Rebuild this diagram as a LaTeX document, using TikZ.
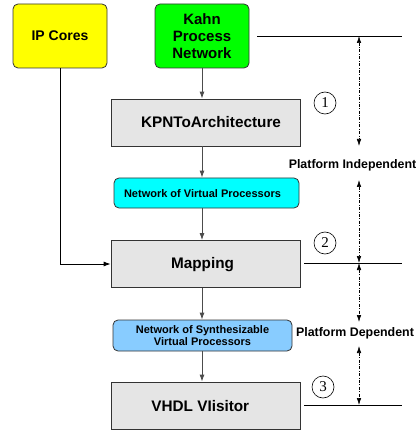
\documentclass[tikz,border=0pt]{standalone}
\usepackage{fontspec}
\setmainfont{Liberation Serif}
\setsansfont{Liberation Sans}
\usetikzlibrary{arrows.meta}
\definecolor{boxgray}{HTML}{E5E5E5}
\definecolor{kpngreen}{HTML}{00FF00}
\definecolor{ipyellow}{HTML}{FFFF00}
\definecolor{nvpcyan}{HTML}{00FFFF}
\definecolor{nsvpblue}{HTML}{88CCFF}
\definecolor{edgegray}{HTML}{333333}
\begin{document}
\begin{tikzpicture}[x=1pt,y=-1pt,
  rbox/.style={draw=edgegray,line width=0.8pt,rounded corners=5pt,align=center,font=\sffamily\bfseries,inner sep=0pt},
  sbox/.style={draw=edgegray,line width=0.8pt,fill=boxgray,inner sep=0pt,minimum width=189pt,minimum height=47pt},
  stext/.style={font=\sffamily\bfseries\fontsize{15.3}{17}\selectfont,inner sep=0pt},
  flow/.style={draw=black!70,line width=0.9pt,-{Latex[length=7pt,width=5pt]}},
  dim/.style={line width=0.6pt,dash pattern=on 3pt off 1.5pt on 0.8pt off 1.5pt,{Latex[length=7pt,width=4.5pt]}-{Latex[length=7pt,width=4.5pt]}},
  hline/.style={line width=0.7pt},
  num/.style={draw,circle,line width=0.6pt,minimum size=22pt,inner sep=0pt,font=\fontsize{15}{15}\selectfont},
  plab/.style={font=\sffamily\bfseries\fontsize{12.4}{14}\selectfont,inner sep=0pt}]
\useasboundingbox (0,0) rectangle (417,430);
\node[rbox,fill=ipyellow,minimum width=94pt,minimum height=64pt,font=\sffamily\bfseries\fontsize{14}{16}\selectfont] (ip) at (60,36) {IP Cores};
\node[rbox,fill=kpngreen,minimum width=94pt,minimum height=64pt,font=\sffamily\bfseries\fontsize{15}{16.7}\selectfont] (kpn) at (202,36) {Kahn\\Process\\Network};
\node[sbox] (k2a) at (205.5,122.5) {};
\node[stext] (k2at) at (211,122.5) {KPNToArchitecture};
\node[rbox,fill=nvpcyan,minimum width=185pt,minimum height=30pt,font=\sffamily\bfseries\fontsize{11}{13}\selectfont] (nvp) at (206.5,193) {};
\node[font=\sffamily\bfseries\fontsize{11}{13}\selectfont,inner sep=0pt] (nvpt) at (202.5,193.5) {Network of Virtual Processors};
\node[sbox] (map) at (205.5,264) {};
\node[stext] (mapt) at (202.5,264.5) {Mapping};
\node[rbox,fill=nsvpblue,minimum width=179pt,minimum height=31pt,font=\sffamily\bfseries\fontsize{11}{11.8}\selectfont] (nsvp) at (202.5,335.5) {Network of Synthesizable\\Virtual Processors};
\node[sbox] (vhdl) at (205.5,405.5) {};
\node[stext] (vhdlt) at (200.3,406) {VHDL VIisitor};
\draw[flow] (kpn.south) -- (kpn.south |- k2a.north);
\draw[flow] (k2a.south -| kpn.south) -- (kpn.south |- nvp.north);
\draw[flow] (nvp.south -| kpn.south) -- (kpn.south |- map.north);
\draw[flow] (map.south -| kpn.south) -- (kpn.south |- nsvp.north);
\draw[flow] (nsvp.south -| kpn.south) -- (kpn.south |- vhdl.north);
\draw[line width=0.8pt,-{Latex[length=7pt,width=5pt]}] (ip.south) |- (map.west);
% dimension lines
\coordinate (h1a) at (257,36); \coordinate (h1b) at (402,36);
\coordinate (h2a) at (304,263); \coordinate (h2b) at (402,263);
\coordinate (h3a) at (304,405); \coordinate (h3b) at (402,405);
\draw[hline] (h1a) -- (h1b);
\draw[hline] (h2a) -- (h2b);
\draw[hline] (h3a) -- (h3b);
\node[plab] (pi) at (352.5,165) {Platform Independent};
\node[plab] (pd) at (355,333) {Platform Dependent};
\coordinate (d1a) at (359,36); \coordinate (d1b) at (359,146);
\coordinate (d2a) at (359,180); \coordinate (d2b) at (359,263);
\coordinate (d3a) at (359,263); \coordinate (d3b) at (359,322);
\coordinate (d4a) at (359,346); \coordinate (d4b) at (359,405);
\draw[dim] (d1a) -- (d1b);
\draw[dim] (d2a) -- (d2b);
\draw[dim] (d3a) -- (d3b);
\draw[dim] (d4a) -- (d4b);
\node[num] (n1) at (325,103) {1};
\node[num] (n2) at (325,243) {2};
\node[num] (n3) at (323,387) {3};
\end{tikzpicture}
\end{document}
